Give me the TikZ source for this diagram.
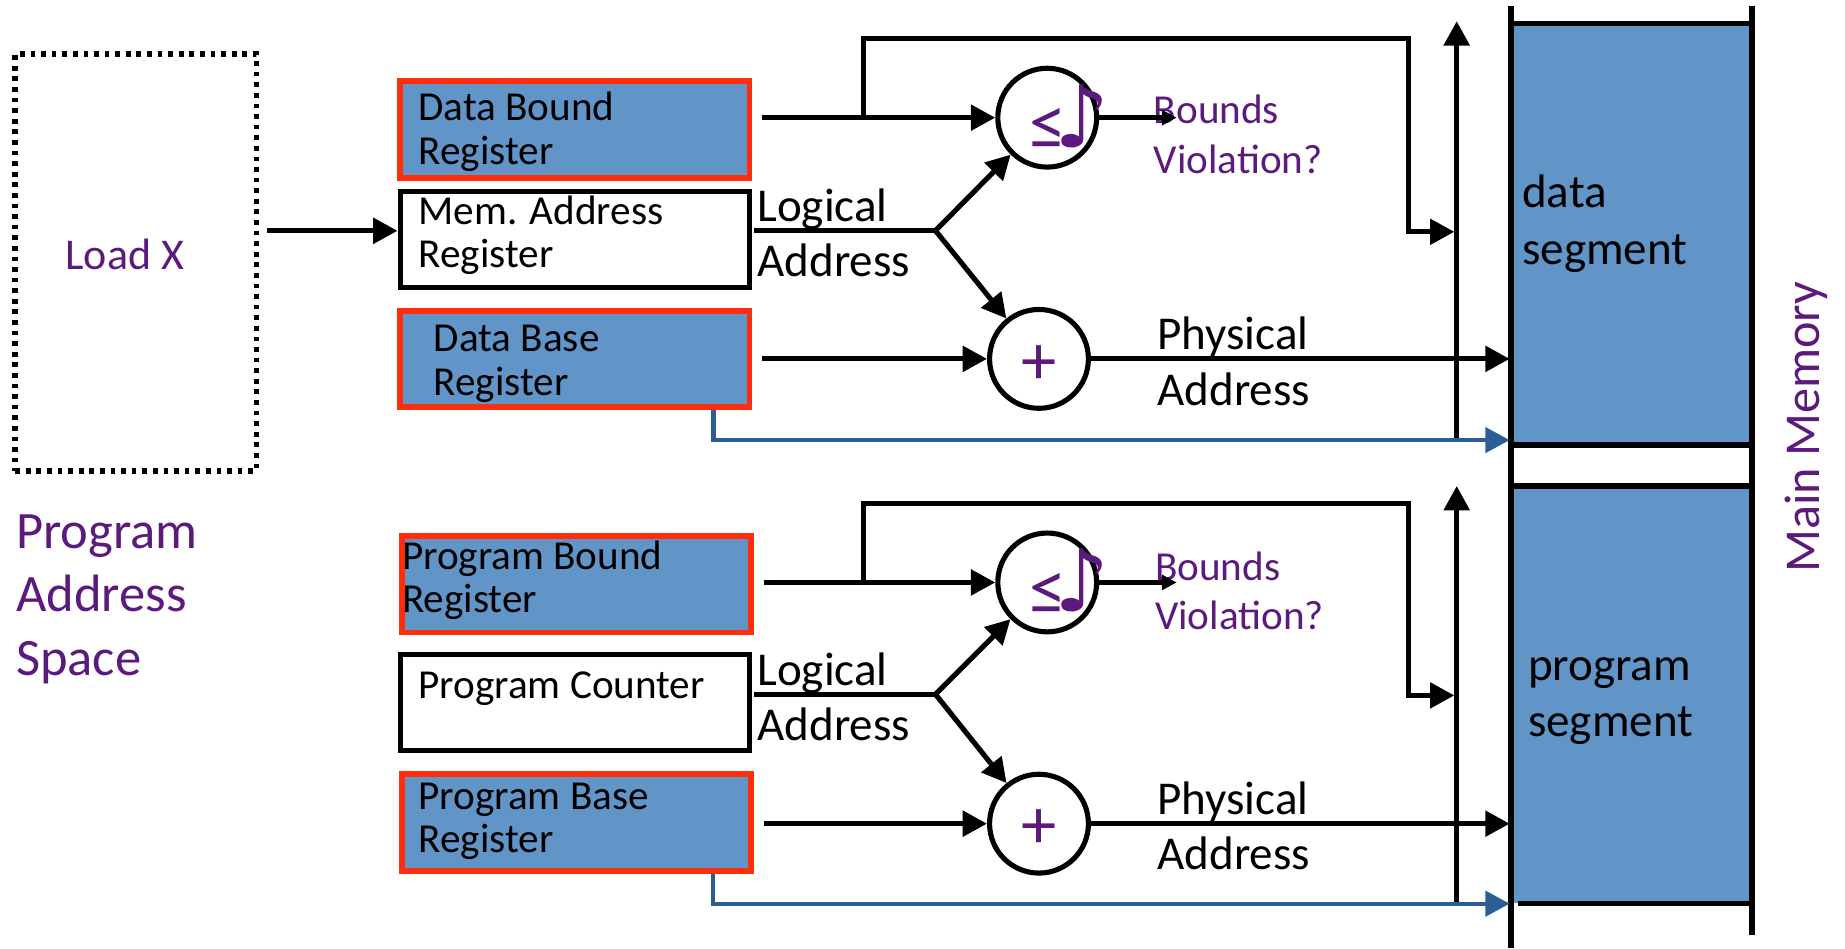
\documentclass[tikz,border=0pt]{standalone}
\usepackage{fontspec}
\setmainfont{Carlito}
\newfontfamily\symfont{DejaVu Sans}
\usetikzlibrary{arrows.meta}
\definecolor{memblue}{RGB}{97,149,200}
\definecolor{regred}{RGB}{255,45,10}
\definecolor{violetish}{RGB}{92,26,126}
\definecolor{linkblue}{RGB}{44,94,148}
% comparator sign: "less or equal" followed by a note glyph
\newcommand{\cmpsign}{{\fontsize{19pt}{19pt}\selectfont ≤}\kern-3pt\raisebox{0.6pt}{\symfont\fontsize{22pt}{22pt}\selectfont ♪}}

\begin{document}
\begin{tikzpicture}[x=0.3pt,y=-0.3pt,
  regbox/.style={draw=regred, fill=memblue, line width=1.5pt,
    minimum width=89.1pt, minimum height=24.6pt, inner sep=0pt},
  plainbox/.style={draw=black, fill=white, line width=1.3pt,
    minimum width=89.1pt, minimum height=24.6pt, inner sep=0pt},
  regtxt/.style={font=\fontsize{10.5pt}{11.1pt}\selectfont, align=left,
    anchor=west, inner sep=0pt},
  bigtxt/.style={font=\fontsize{12pt}{14.1pt}\selectfont, align=left,
    anchor=west, inner sep=0pt},
  violtxt/.style={font=\fontsize{10.5pt}{12.6pt}\selectfont, align=left,
    anchor=west, inner sep=0pt, text=violetish},
  op/.style={circle, draw, line width=1.3pt, minimum size=25.2pt, inner sep=0pt},
  cmptxt/.style={inner sep=0pt, text=violetish, anchor=base west},
  plus/.style={inner sep=0pt, text=violetish, font=\fontsize{18pt}{18pt}\selectfont},
  wire/.style={line width=1.3pt},
  arr/.style={wire, -{Triangle[length=6.2pt,width=6.4pt]}},
  sarr/.style={wire, -{Triangle[length=3.8pt,width=3.8pt]}},
  barr/.style={line width=1.1pt, draw=linkblue,
    -{Triangle[length=6.2pt,width=6.4pt]}},
  rail/.style={line width=1.4pt},
  seg/.style={fill=memblue, draw=none, minimum width=60pt, inner sep=0pt}
]
\useasboundingbox (0,0) rectangle (1568,806);

% ---------- program address space ----------
\node[draw, line width=1.5pt, dash pattern=on 1.2pt off 1.5pt,
      minimum width=61.5pt, minimum height=106.2pt, inner sep=0pt]
      (prog) at (115.5,223) {};
\node[font=\fontsize{11.2pt}{13pt}\selectfont, text=violetish, inner sep=0pt]
      (loadx) at (106,216) {Load X};
\node[font=\fontsize{13.4pt}{16.2pt}\selectfont, text=violetish, align=left,
      anchor=west, inner sep=0pt] (pas) at (13,509) {Program\\Address\\Space};

% ---------- main memory ----------
\node[seg, minimum height=106.5pt] (dseg) at (1387,199.5) {};
\node[seg, minimum height=105.6pt] (pseg) at (1387,591) {};
\node[bigtxt, font=\fontsize{12pt}{14.4pt}\selectfont] (dsegt) at (1293,190) {data\\segment};
\node[bigtxt, font=\fontsize{12pt}{14.4pt}\selectfont] (psegt) at (1298,596) {program\\segment};
\draw[rail] (1284,5) -- (1284,806);
\draw[rail] (1489,5) -- (1489,795);
\draw[rail] (1284,20) -- (1489,20);
\draw[rail] (1284,378) -- (1489,378);
\draw[rail] (1284,413) -- (1489,413);
\draw[rail] (1290,768) -- (1489,768);
\node[font=\fontsize{12.8pt}{14pt}\selectfont, text=violetish, rotate=90,
      inner sep=0pt] (mm) at (1535,363) {Main Memory};

% ---------- data segment registers ----------
\node[regbox] (dbr) at (488.5,110) {};
\node[regtxt] (dbrt) at (355,112) {Data Bound\\Register};
\node[plainbox] (mar) at (488.5,203.5) {};
\node[regtxt] (mart) at (355,200) {Mem. Address\\Register};
\node[regbox] (dbase) at (488.5,305) {};
\node[regtxt] (dbaset) at (368,309) {Data Base\\Register};

\node[bigtxt] (la1) at (643,198) {Logical\\Address};
\node[bigtxt] (pa1) at (983,307) {Physical\\Address};
\node[violtxt] (bv1t) at (980,114) {Bounds\\Violation?};

\node[op] (cmp1) at (890,100) {};
\node[cmptxt] (cmp1s) at (874,127) {\cmpsign};
\node[op] (add1) at (883,305) {};
\node[plus] (add1s) at (883,310) {+};

\coordinate (br1) at (795,196);
\coordinate (j1) at (734,100);
\coordinate (c1) at (1197,33);
\coordinate (e1) at (1236,197);
\coordinate (vb1) at (1238,374);
\coordinate (vt1) at (1238,18);
\coordinate (bv1) at (1000,100);
\coordinate (m1) at (1283,305);
\coordinate (mb1) at (1283,374);

\draw[arr] ([xshift=1.8pt,yshift=2.2pt]prog.east |- mar.west) -- ([yshift=2.2pt]mar.west);
\draw[arr] ([xshift=2.4pt]dbr.east |- cmp1) -- (cmp1);
\draw[arr] (j1) |- (c1) |- (e1);
\draw[wire] ([xshift=0.6pt]mar.east |- br1) -- (br1);
\draw[arr] (br1) -- (cmp1);
\draw[arr] (br1) -- (add1);
\draw[arr] ([xshift=2.4pt]dbase.east |- add1) -- (add1);
\draw[sarr] (cmp1.east) -- (bv1);
\draw[arr] (add1.east) -- (m1);
\draw[arr] (vb1) -- (vt1);
\draw[barr] ([xshift=-9.9pt]dbase.south east) |- (mb1);

% ---------- program segment registers ----------
\node[regbox] (pbr) at (490,496.5) {};
\node[regtxt] (pbrt) at (341,493) {Program Bound\\Register};
\node[plainbox] (pc) at (488.5,597) {};
\node[regtxt] (pct) at (355,585) {Program Counter};
\node[regbox] (pbase) at (490,699) {};
\node[regtxt] (pbaset) at (355,698) {Program Base\\Register};

\node[bigtxt] (la2) at (643,592) {Logical\\Address};
\node[bigtxt] (pa2) at (983,702) {Physical\\Address};
\node[violtxt] (bv2t) at (981,502) {Bounds\\Violation?};

\node[op] (cmp2) at (890,495) {};
\node[cmptxt] (cmp2s) at (874,522) {\cmpsign};
\node[op] (add2) at (883,700) {};
\node[plus] (add2s) at (883,705) {+};

\coordinate (br2) at (795,590);
\coordinate (j2) at (734,495);
\coordinate (c2) at (1197,428);
\coordinate (e2) at (1236,591);
\coordinate (vb2) at (1238,768);
\coordinate (vt2) at (1238,413);
\coordinate (bv2) at (1000,495);
\coordinate (m2) at (1283,700);
\coordinate (mb2) at (1283,768);

\draw[arr] ([xshift=2.4pt]pbr.east |- cmp2) -- (cmp2);
\draw[arr] (j2) |- (c2) |- (e2);
\draw[wire] ([xshift=0.6pt]pc.east |- br2) -- (br2);
\draw[arr] (br2) -- (cmp2);
\draw[arr] (br2) -- (add2);
\draw[arr] ([xshift=2.4pt]pbase.east |- add2) -- (add2);
\draw[sarr] (cmp2.east) -- (bv2);
\draw[arr] (add2.east) -- (m2);
\draw[arr] (vb2) -- (vt2);
\draw[barr] ([xshift=-10.5pt]pbase.south east) |- (mb2);
\end{tikzpicture}
\end{document}
